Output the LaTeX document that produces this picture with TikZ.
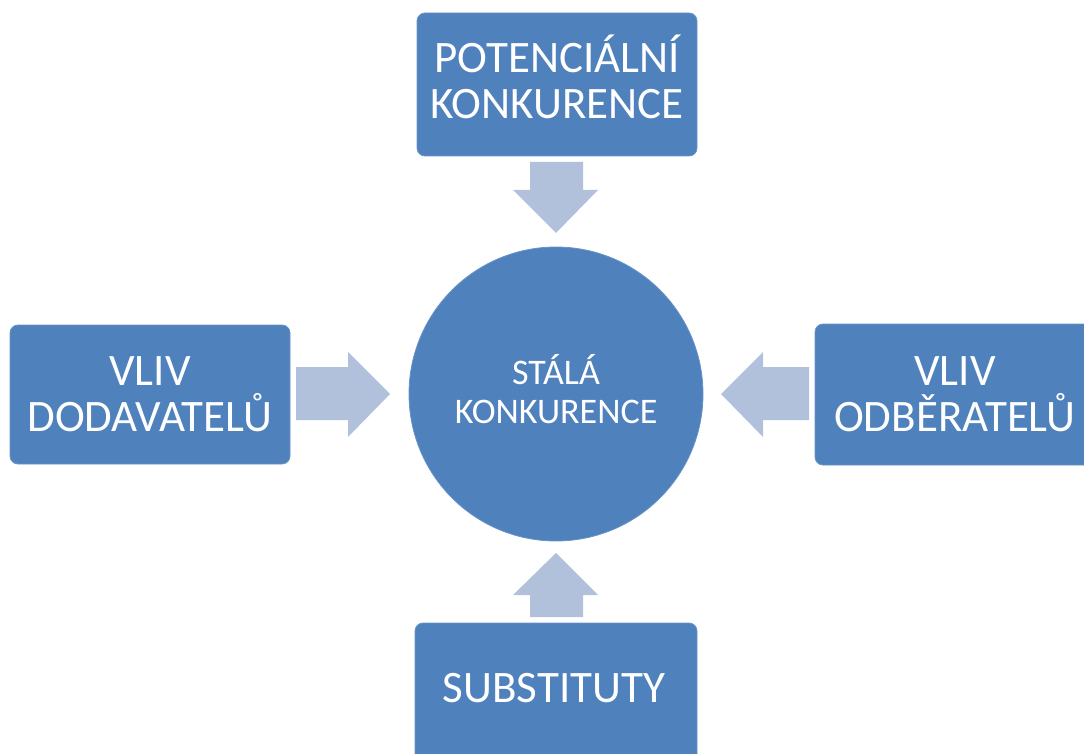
\documentclass[tikz,border=0pt]{standalone}
\usepackage{fontspec}
\setmainfont{Carlito}
\definecolor{boxblue}{HTML}{4F81BD}
\definecolor{arrowblue}{HTML}{B2C1DB}
\begin{document}
\begin{tikzpicture}[x=1pt,y=-1pt,
  box/.style={rectangle, rounded corners=8pt, fill=boxblue, draw=boxblue!85!white, line width=0.8pt,
    text=white, align=center, inner sep=0pt, font=\fontsize{45}{46}\selectfont},
  hub/.style={circle, fill=boxblue, draw=boxblue!85!white, line width=0.8pt, minimum size=294pt,
    text=white, align=center, inner sep=0pt, font=\fontsize{36}{39}\selectfont},
  blockarrow/.style={fill=arrowblue}]
\useasboundingbox (0,0) rectangle (1084,754);
\clip (0,0) rectangle (1084,754);
% nodes
\node[box, minimum width=280pt, minimum height=143pt, text depth=16pt] (top) at (557,84.5) {POTENCIÁLNÍ\\KONKURENCE};
\node[box, minimum width=280pt, minimum height=139pt] (left) at (150,394.5) {VLIV\\DODAVATELŮ};
\node[box, minimum width=280pt, minimum height=141pt] (right) at (955,394.5) {VLIV\\ODBĚRATELŮ};
\node[box, minimum width=282pt, minimum height=143pt] (bottom) at (556,694.5) {};
\node[text=white, font=\fontsize{45}{46}\selectfont, inner sep=0pt] (subst) at (554,688) {SUBSTITUTY};
\node[hub, text depth=10pt] (hub) at (556,394) {STÁLÁ\\KONKURENCE};
% block arrows
\fill[blockarrow] (530,162) -- (583,162) -- (583,190) -- (598,190) -- (556,233) -- (513,190) -- (530,190) -- cycle;
\fill[blockarrow] (296,367) -- (348,367) -- (348,352) -- (390,394) -- (348,437) -- (348,420) -- (296,420) -- cycle;
\fill[blockarrow] (809,367) -- (763,367) -- (763,352) -- (721,394) -- (763,437) -- (763,420) -- (809,420) -- cycle;
\fill[blockarrow] (530,617) -- (583,617) -- (583,595) -- (598,595) -- (556,553) -- (513,595) -- (530,595) -- cycle;
\end{tikzpicture}
\end{document}
